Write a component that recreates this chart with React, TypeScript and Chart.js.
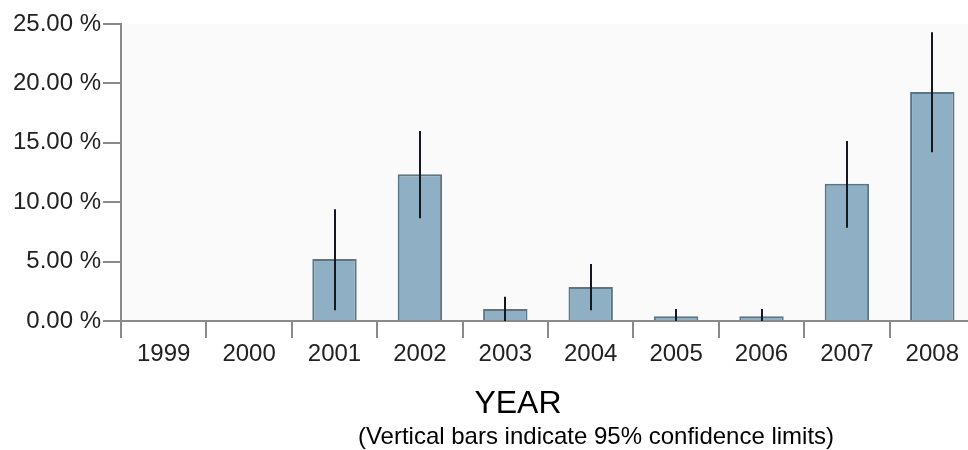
import React, { useEffect, useRef } from "react";
import { Chart, registerables } from "chart.js";

Chart.register(...registerables);

const years = ["1999", "2000", "2001", "2002", "2003", "2004", "2005", "2006", "2007", "2008"];
const rates: (number | null)[] = [null, null, 5.22, 12.35, 1.0, 2.86, 0.4, 0.4, 11.56, 19.28];
const ciLow: (number | null)[] = [null, null, 0.9, 8.64, 0.0, 0.9, 0.0, 0.0, 7.85, 14.2];
const ciHigh: (number | null)[] = [null, null, 9.4, 16.0, 2.05, 4.8, 1.0, 1.0, 15.15, 24.3];
const xTitle = "YEAR";
const xSubtitle = "(Vertical bars indicate 95% confidence limits)";

const FONT = "'Liberation Sans', Arial, sans-serif";

const bgPlugin = {
  id: "plotBg",
  beforeDraw(chart: any) {
    const { ctx, chartArea } = chart;
    ctx.save();
    ctx.fillStyle = "#fafafa";
    ctx.fillRect(chartArea.left, chartArea.top, chartArea.right - chartArea.left, chartArea.bottom - chartArea.top);
    ctx.restore();
  },
};

const errorBarPlugin = {
  id: "errorBars",
  afterDatasetsDraw(chart: any) {
    const { ctx } = chart;
    const meta = chart.getDatasetMeta(0);
    const y = chart.scales.y;
    ctx.save();
    ctx.strokeStyle = "#151820";
    ctx.lineWidth = 2;
    meta.data.forEach((bar: any, i: number) => {
      const lo = ciLow[i];
      const hi = ciHigh[i];
      if (lo == null || hi == null) return;
      const x = Math.round(bar.x);
      ctx.beginPath();
      ctx.moveTo(x, y.getPixelForValue(lo));
      ctx.lineTo(x, y.getPixelForValue(hi));
      ctx.stroke();
    });
    ctx.restore();
  },
};

const titlePlugin = {
  id: "axisTitles",
  afterDraw(chart: any) {
    const { ctx } = chart;
    ctx.save();
    ctx.fillStyle = "#000";
    ctx.textAlign = "center";
    ctx.textBaseline = "middle";
    ctx.font = `32px ${FONT}`;
    ctx.fillText(xTitle, 518, 404);
    ctx.font = `24px ${FONT}`;
    ctx.fillText(xSubtitle, 596, 437);
    ctx.restore();
  },
};

export default function App() {
  const ref = useRef<HTMLCanvasElement | null>(null);
  useEffect(() => {
    document.body.style.margin = "0";
    const canvas = ref.current!;
    const chart = new Chart(canvas, {
      type: "bar",
      data: {
        labels: years,
        datasets: [
          {
            data: rates as any,
            backgroundColor: "#8fb0c4",
            borderColor: "#5a7585",
            borderWidth: 2,
            barPercentage: 0.52,
            categoryPercentage: 1,
          },
        ],
      },
      options: {
        animation: false,
        responsive: false,
        maintainAspectRatio: false,
        layout: { padding: { left: 0, top: 24, right: 0, bottom: 0 } },
        plugins: { legend: { display: false }, tooltip: { enabled: false } },
        scales: {
          x: {
            offset: true,
            grid: {
              offset: true,
              drawOnChartArea: false,
              drawTicks: true,
              tickLength: 17,
              color: "#8a8a8a",
              lineWidth: 2,
            },
            border: { display: true, color: "#8a8a8a", width: 2 },
            ticks: { color: "#222", font: { family: FONT, size: 24 }, padding: 2, maxRotation: 0, autoSkip: false },
            afterFit(scale: any) {
              scale.height = 129;
            },
          },
          y: {
            min: 0,
            max: 25,
            grid: {
              drawOnChartArea: false,
              drawTicks: true,
              tickLength: 18,
              color: "#8a8a8a",
              lineWidth: 2,
            },
            border: { display: true, color: "#8a8a8a", width: 2 },
            ticks: {
              stepSize: 5,
              color: "#222",
              font: { family: FONT, size: 24 },
              padding: 2,
              callback: (v: any) => Number(v).toFixed(2) + " %",
            },
            afterFit(scale: any) {
              scale.width = 121;
            },
          },
        },
      },
      plugins: [bgPlugin, errorBarPlugin, titlePlugin],
    });
    return () => chart.destroy();
  }, []);
  return (
    <div style={{ width: 968, height: 450, overflow: "hidden", position: "relative" }}>
      <canvas ref={ref} width={975} height={450} style={{ display: "block" }} />
    </div>
  );
}
